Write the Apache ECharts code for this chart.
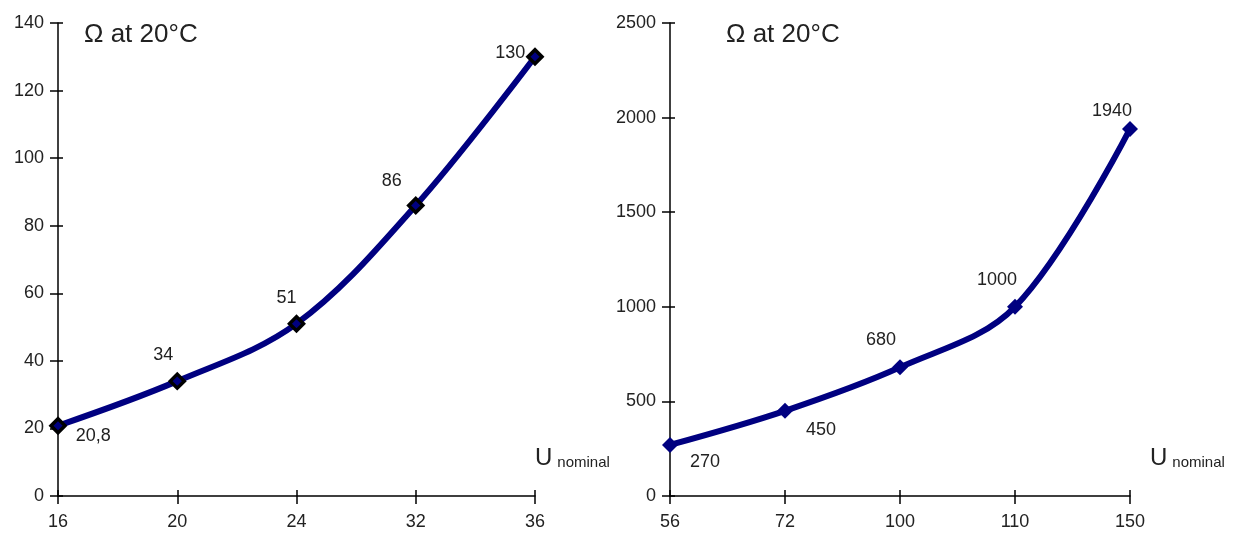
<!DOCTYPE html>
<html>
<head>
<meta charset="utf-8">
<script src="https://cdn.jsdelivr.net/npm/echarts@6/dist/echarts.min.js"></script>
<style>
  html, body { margin: 0; padding: 0; background: #fff; }
  #chart { width: 1237px; height: 535px; }
</style>
</head>
<body>
<div id="chart"></div>
<script>
// Nominal voltages and resistance at 20 °C
const lowVoltages = ['16', '20', '24', '32', '36'];
const lowOhms = [20.8, 34, 51, 86, 130];
const lowOhmLabels = ['20,8', '34', '51', '86', '130'];

const highVoltages = ['56', '72', '100', '110', '150'];
const highOhms = [270, 450, 680, 1000, 1940];
const highOhmLabels = ['270', '450', '680', '1000', '1940'];

const lowTicks = { min: 0, max: 140, interval: 20 };
const highTicks = { min: 0, max: 2500, interval: 500 };

// where each value label sits next to its point
const lowLabelPlace = [
  { position: 'right', distance: 9, offset: [0, 10] },
  { position: 'top', distance: 5, offset: [-14, -3] },
  { position: 'top', distance: 5, offset: [-10, -3] },
  { position: 'top', distance: 5, offset: [-24, -2] },
  { position: 'left', distance: 1, offset: [0, -4] }
];
const highLabelPlace = [
  { position: 'right', distance: 12, offset: [0, 17] },
  { position: 'right', distance: 13, offset: [0, 19] },
  { position: 'top', distance: 5, offset: [-19, -5] },
  { position: 'top', distance: 5, offset: [-18, -5] },
  { position: 'top', distance: 5, offset: [-18, 4] }
];

const TXT = '#222';
const NAVY = '#000080';
const FONT = 'Liberation Sans, Arial, sans-serif';

const grids = [
  { left: 58, right: 702, top: 23, bottom: 39 },
  { left: 670, right: 107, top: 23, bottom: 39 }
];

function xAxes(cats, gi) {
  const base = {
    type: 'category', data: cats, gridIndex: gi, boundaryGap: false,
    position: 'bottom'
  };
  return [
    Object.assign({}, base, {
      axisLine: { lineStyle: { color: '#000', width: 1.5 } },
      axisTick: { show: true, length: 8, lineStyle: { color: '#000', width: 1.5 } },
      axisLabel: { color: TXT, fontSize: 18, fontFamily: FONT, margin: 17 },
      splitLine: { show: false }
    }),
    Object.assign({}, base, {
      axisLine: { show: false },
      axisTick: { show: true, inside: true, length: 6, lineStyle: { color: '#000', width: 1.5 } },
      axisLabel: { show: false },
      splitLine: { show: false }
    })
  ];
}

function yAxes(t, gi) {
  const base = {
    type: 'value', gridIndex: gi, min: t.min, max: t.max, interval: t.interval,
    position: 'left', splitLine: { show: false }
  };
  return [
    Object.assign({}, base, {
      axisLine: { show: true, lineStyle: { color: '#000', width: 1.5 } },
      axisTick: { show: true, length: 8, lineStyle: { color: '#000', width: 1.5 } },
      axisLabel: { color: TXT, fontSize: 18, fontFamily: FONT, margin: 14,
        formatter: (v) => String(v) }
    }),
    Object.assign({}, base, {
      axisLine: { show: false },
      axisTick: { show: true, inside: true, length: 5, lineStyle: { color: '#000', width: 1.5 } },
      axisLabel: { show: false }
    })
  ];
}

function points(values, labels, place) {
  return values.map((v, i) => ({
    value: v,
    label: Object.assign({
      show: true,
      formatter: labels[i],
      color: TXT,
      fontSize: 18,
      fontFamily: FONT
    }, place[i])
  }));
}

const axisName = (left) => ({
  left: left, top: 441,
  text: '{u|U} {n|nominal}',
  textStyle: {
    fontWeight: 'normal',
    rich: {
      u: { fontSize: 24, color: TXT, fontFamily: FONT, fontWeight: 'normal' },
      n: { fontSize: 15, color: TXT, fontFamily: FONT, fontWeight: 'normal', padding: [9, 0, 0, 0] }
    }
  }
});

const titleStyle = { fontSize: 26, fontWeight: 'normal', color: TXT, fontFamily: FONT };

const option = {
  backgroundColor: '#fff',
  animation: false,
  title: [
    { text: 'Ω at 20°C', left: 79, top: 17, textStyle: titleStyle },
    { text: 'Ω at 20°C', left: 721, top: 17, textStyle: titleStyle },
    axisName(530),
    axisName(1145)
  ],
  grid: grids,
  xAxis: [].concat(xAxes(lowVoltages, 0), xAxes(highVoltages, 1)),
  yAxis: [].concat(yAxes(lowTicks, 0), yAxes(highTicks, 1)),
  series: [
    {
      type: 'line', xAxisIndex: 0, yAxisIndex: 0, smooth: 0.35,
      data: points(lowOhms, lowOhmLabels, lowLabelPlace),
      lineStyle: { color: NAVY, width: 6 },
      symbol: 'diamond', symbolSize: 14,
      itemStyle: { color: NAVY, borderColor: '#000', borderWidth: 3.5 }
    },
    {
      type: 'line', xAxisIndex: 2, yAxisIndex: 2, smooth: 0.35,
      data: points(highOhms, highOhmLabels, highLabelPlace),
      lineStyle: { color: NAVY, width: 6 },
      symbol: 'diamond', symbolSize: 16,
      itemStyle: { color: NAVY, borderWidth: 0 }
    }
  ]
};

echarts.init(document.getElementById('chart'), null, { renderer: 'canvas' }).setOption(option);
</script>
</body>
</html>
